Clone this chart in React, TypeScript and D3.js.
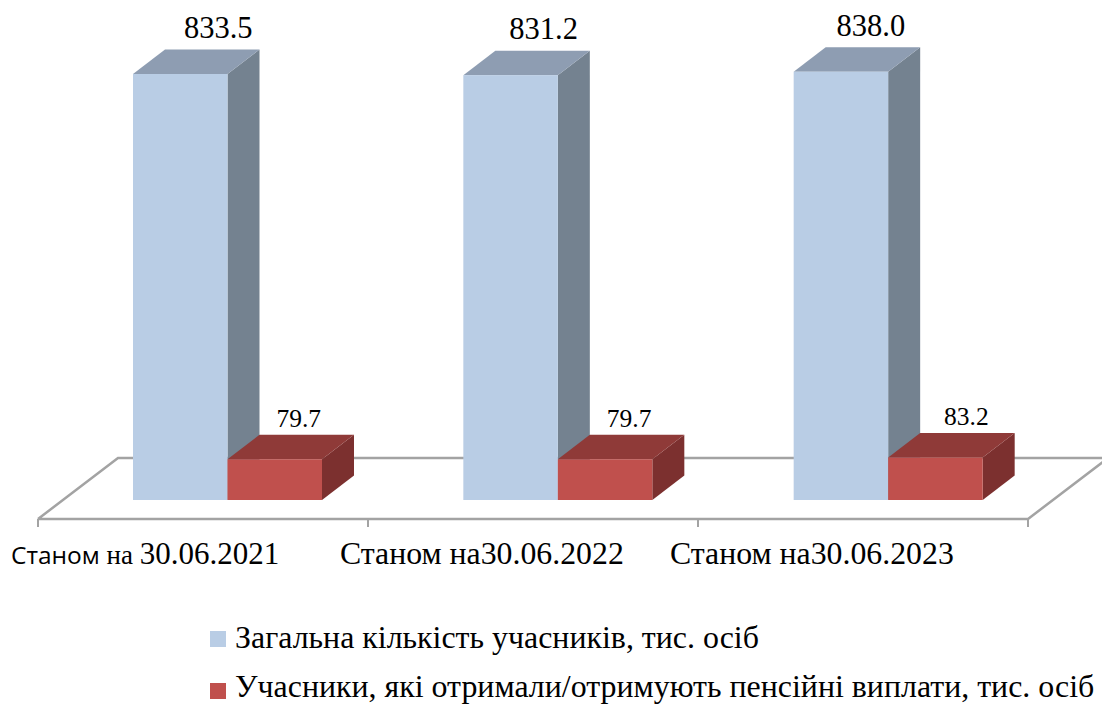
import { useMemo } from 'react';
import * as d3 from 'd3';

const categories = ['2021', '2022', '2023'];
const totalMembers = [833.5, 831.2, 838.0];
const pensionMembers = [79.7, 79.7, 83.2];
const seriesNames = [
    'Загальна кількість учасників, тис. осіб',
    'Учасники, які отримали/отримують пенсійні виплати, тис. осіб',
];
const categoryLabels = ['30.06.2021', 'Станом на30.06.2022', 'Станом на30.06.2023'];

const SERIF = '"Liberation Serif", "Times New Roman", serif';
const FRONT = ['#b9cde5', '#c0504d'];
const TOP = ['#8e9db2', '#8f3a38'];
const SIDE = ['#748290', '#7c302f'];
const GRID = '#a3a3a3';

// 3D look: how far the back face sits from the front face
const DEPTH_X = 32;
const DEPTH_Y = 24.5;
const FLOOR_DX = 80;
const FLOOR_DY = 61;

// how far each value label sits from the middle of its bar
const totalNudge = [38, 33, 30];
const pensionNudge = [24, 24, 31];

export default function App() {
    const x = useMemo(() => d3.scaleBand<string>().domain(categories).range([38, 1029]), []);
    const inner = useMemo(() => d3.scaleBand<number>().domain([0, 1]).range([95, 284]), []);
    const y = useMemo(() => d3.scaleLinear().domain([0, 833.5]).range([500, 74]), []);
    const tickX = useMemo(() => d3.scaleLinear().domain([0, 3]).range([38, 1028]), []);
    const floorY = 519;
    const line = d3.line();

    const bar = (cat: string, s: number, value: number) => {
        const x0 = (x(cat) || 0) + (inner(s) || 0);
        const x1 = x0 + inner.bandwidth();
        const yTop = y(value);
        const yBase = y(0);
        const closed = (pts: [number, number][]) => line(pts) + 'Z';
        return (
            <g key={cat + s}>
                <path
                    fill={SIDE[s]}
                    d={closed([
                        [x1, yBase],
                        [x1 + DEPTH_X, yBase - DEPTH_Y],
                        [x1 + DEPTH_X, yTop - DEPTH_Y],
                        [x1, yTop],
                    ])}
                />
                <path
                    fill={TOP[s]}
                    d={closed([
                        [x0, yTop],
                        [x0 + DEPTH_X, yTop - DEPTH_Y],
                        [x1 + DEPTH_X, yTop - DEPTH_Y],
                        [x1, yTop],
                    ])}
                />
                <rect x={x0} y={yTop} width={x1 - x0} height={yBase - yTop} fill={FRONT[s]} />
            </g>
        );
    };

    const midX = (cat: string, s: number) =>
        (x(cat) || 0) + (inner(s) || 0) + inner.bandwidth() / 2;

    return (
        <svg
            width={1102}
            height={704}
            style={{ position: 'absolute', left: 0, top: 0, display: 'block', background: '#fff' }}
        >
            {/* Floor */}
            <path
                fill="none"
                stroke={GRID}
                strokeWidth={2.5}
                d={
                    line([
                        [38, floorY],
                        [38 + FLOOR_DX, floorY - FLOOR_DY],
                        [1028 + FLOOR_DX, floorY - FLOOR_DY],
                        [1028, floorY],
                        [38, floorY],
                    ]) || ''
                }
            />
            {tickX.ticks(3).map(t => (
                <line
                    key={t}
                    x1={tickX(t)}
                    x2={tickX(t)}
                    y1={floorY}
                    y2={floorY + 8}
                    stroke={GRID}
                    strokeWidth={2}
                />
            ))}

            {/* Bars */}
            {categories.map((c, i) => (
                <g key={c}>
                    {bar(c, 0, totalMembers[i])}
                    {bar(c, 1, pensionMembers[i])}
                </g>
            ))}

            {/* Value labels */}
            <g fontFamily={SERIF} fill="#000" textAnchor="middle">
                {categories.map((c, i) => (
                    <g key={c}>
                        <text x={midX(c, 0) + totalNudge[i]} y={y(totalMembers[i]) - 36} fontSize={30.5}>
                            {totalMembers[i].toFixed(1)}
                        </text>
                        <text x={midX(c, 1) + pensionNudge[i]} y={y(pensionMembers[i]) - 32} fontSize={25.5}>
                            {pensionMembers[i].toFixed(1)}
                        </text>
                    </g>
                ))}
            </g>

            {/* Category labels */}
            <g fill="#000" fontFamily={SERIF} fontSize={31.8}>
                <text x={11} y={564}>
                    <tspan fontFamily='"Open Sans", sans-serif' fontSize={24.5}>Станом</tspan>
                    <tspan fontSize={27}> на </tspan>
                    <tspan fontSize={31}>{categoryLabels[0]}</tspan>
                </text>
                <text x={340} y={564}>{categoryLabels[1]}</text>
                <text x={670} y={564}>{categoryLabels[2]}</text>
            </g>

            {/* Legend */}
            {seriesNames.map((name, s) => (
                <g key={name}>
                    <rect x={210} y={631 + s * 52} width={16} height={16} fill={FRONT[s]} />
                    <text x={235} y={647.5 + s * 49} fontFamily={SERIF} fontSize={31.9} fill="#000">
                        {name}
                    </text>
                </g>
            ))}
        </svg>
    );
}
